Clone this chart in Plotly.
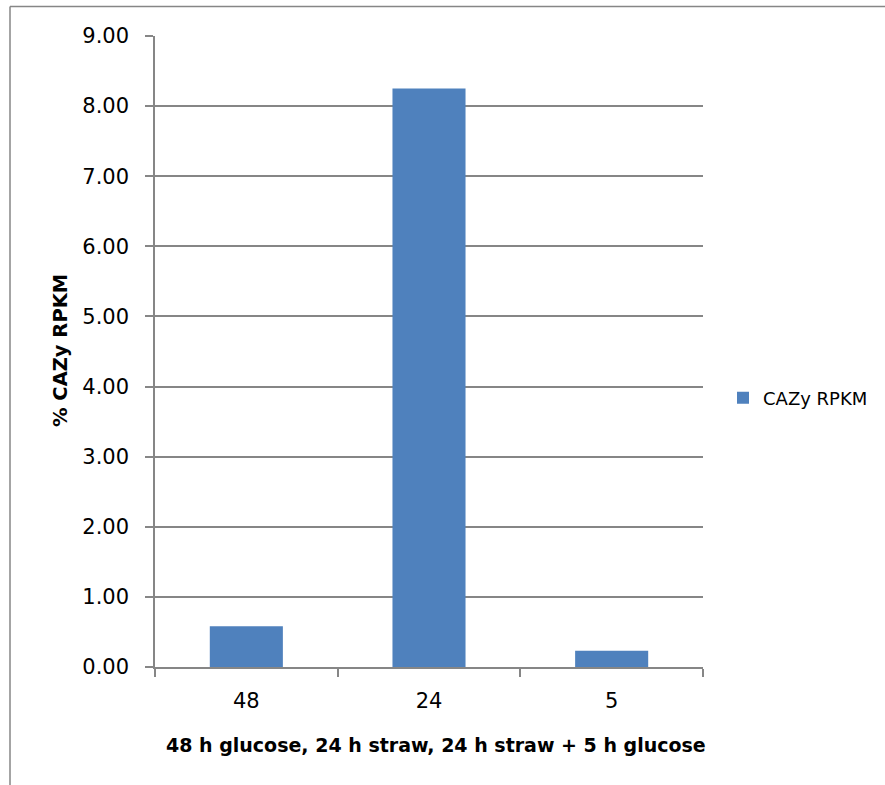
import plotly.graph_objects as go

categories = ["48", "24", "5"]
values = [0.58, 8.25, 0.23]
series_name = "CAZy RPKM"
x_title = "48 h glucose, 24 h straw, 24 h straw + 5 h glucose"
y_title = "% CAZy RPKM"

W, H = 885, 785
L, R, T, B = 155, 703, 36, 667
PW, PH = R - L, B - T

def px(x):
    return (x - L) / PW

def py(y):
    return (B - y) / PH

fig = go.Figure()
fig.add_trace(go.Bar(x=categories, y=values, name=series_name,
                     marker=dict(color="#4F81BD", line=dict(width=0)),
                     showlegend=True))

grey = "#868686"
font_family = "DejaVu Sans"
fig.update_layout(
    width=W, height=H,
    margin=dict(l=L, r=W - R, t=T, b=H - B),
    paper_bgcolor="white", plot_bgcolor="white",
    font=dict(family=font_family, color="black"),
    bargap=0.6,
    showlegend=True,
    legend=dict(x=px(723), y=py(398), xanchor="left", yanchor="middle",
                font=dict(size=18, family=font_family), bgcolor="rgba(0,0,0,0)"),
    xaxis=dict(type="category", showline=True, linecolor=grey, linewidth=1.5,
               ticks="outside", tickson="boundaries", ticklen=8, tickcolor=grey,
               tickwidth=1.5, tickfont=dict(size=21), ticklabelstandoff=14,
               showgrid=False),
    yaxis=dict(range=[0, 9], dtick=1, tickformat=".2f", showline=True, linecolor=grey,
               linewidth=1.5, ticks="outside", ticklen=8, tickcolor=grey, tickwidth=1.5,
               tickfont=dict(size=21), ticklabelstandoff=12,
               showgrid=True, gridcolor=grey, gridwidth=1.5, zeroline=False),
    annotations=[
        dict(text="<b>" + x_title + "</b>", xref="paper", yref="paper",
             x=px(436), y=py(745), xanchor="center", yanchor="middle",
             showarrow=False, font=dict(size=19, family=font_family)),
        dict(text="<b>" + y_title + "</b>", xref="paper", yref="paper",
             x=px(60), y=py(351), xanchor="center", yanchor="middle",
             textangle=-90, showarrow=False, font=dict(size=19.5, family=font_family)),
    ],
    shapes=[
        dict(type="line", xref="paper", yref="paper",
             x0=px(10), x1=px(885), y0=py(6.5), y1=py(6.5),
             line=dict(color=grey, width=1.5), layer="below"),
        dict(type="line", xref="paper", yref="paper",
             x0=px(10), x1=px(10), y0=py(6.5), y1=py(785),
             line=dict(color=grey, width=1.5), layer="below"),
    ],
)

fig.write_html("out.html", config={"displayModeBar": False},
               post_script="document.body.style.margin='0';")
